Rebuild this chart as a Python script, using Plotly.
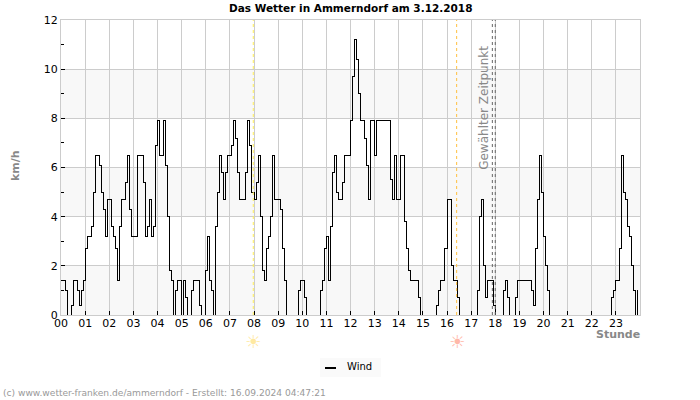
import plotly.graph_objects as go

# Wind speed in km/h, one value per 5 minutes, one row per hour
wind_kmh = [
    1.4, 1.4, 1.0, 0, 0, 0.4, 1.4, 1.4, 1.0, 0.4, 1.0, 1.4,
    2.7, 3.2, 3.2, 3.6, 5.0, 6.5, 6.5, 6.1, 5.0, 4.3, 3.2, 4.7,
    4.7, 3.6, 3.2, 2.7, 1.4, 3.6, 4.7, 4.7, 5.4, 6.5, 4.3, 3.2,
    3.2, 3.2, 6.5, 6.5, 6.5, 5.4, 3.2, 3.6, 4.7, 3.2, 3.6, 6.9,
    7.9, 6.5, 6.5, 7.9, 6.1, 4.0, 1.8, 1.4, 0, 1.0, 1.4, 1.4,
    0, 1.4, 0.7, 0, 0, 1.0, 1.4, 1.4, 1.4, 0.4, 0, 0,
    1.8, 3.2, 1.4, 1.0, 0, 3.6, 5.0, 6.5, 5.8, 4.7, 5.8, 6.5,
    6.5, 6.9, 7.9, 7.2, 5.8, 4.7, 4.7, 4.7, 5.8, 7.9, 6.9, 5.0,
    4.7, 5.4, 6.5, 4.0, 1.8, 1.4, 2.7, 3.2, 4.0, 6.5, 4.7, 4.7,
    4.7, 4.3, 2.7, 1.4, 0, 0, 0, 0, 0, 0, 1.0, 1.4,
    1.4, 0.7, 0, 0, 0, 0, 0, 0, 0, 1.0, 1.4, 2.7,
    3.2, 1.4, 3.6, 5.8, 6.5, 5.0, 4.7, 4.7, 5.4, 6.5, 6.5, 6.5,
    7.9, 9.7, 11.2, 10.4, 9.0, 7.9, 7.9, 7.2, 6.1, 4.7, 7.9, 7.9,
    6.5, 7.9, 7.9, 7.9, 7.9, 7.9, 7.9, 7.9, 5.5, 4.7, 6.5, 4.7,
    4.7, 6.5, 6.5, 3.8, 2.7, 1.8, 1.4, 1.4, 1.4, 1.4, 0.7, 0,
    0, 0, 0, 0, 0, 0, 0, 0.4, 1.0, 1.4, 1.4, 2.7,
    4.7, 4.7, 2.0, 1.4, 1.4, 0.7, 0, 0, 0, 0, 0, 0,
    0, 0, 0, 1.0, 4.0, 4.7, 2.0, 0.7, 1.4, 1.4, 1.4, 0.4,
    0, 0, 0, 0, 1.0, 1.4, 0.7, 0, 0, 0, 0.7, 1.4,
    1.4, 1.4, 1.4, 1.4, 1.4, 1.4, 1.0, 0.4, 2.7, 4.7, 6.5, 5.0,
    3.2, 2.0, 1.0, 0, 0, 0, 0, 0, 0, 0, 0, 0,
    0, 0, 0, 0, 0, 0, 0, 0, 0, 0, 0, 0,
    0, 0, 0, 0, 0, 0, 0, 0, 0, 0, 0.7, 1.0,
    1.4, 1.4, 2.7, 6.5, 5.0, 4.7, 3.6, 3.2, 2.0, 1.0, 0, 1.0,
]
hours = [i * 5 / 60 for i in range(len(wind_kmh))]

hour_ticks = list(range(24))
hour_labels = ["%02d" % h for h in hour_ticks]
y_ticks = [0, 2, 4, 6, 8, 10, 12]
bands = [(0, 2), (4, 6), (8, 10)]

sunrise = 7.97
sunset = 16.4
selected = [17.88, 18.0]

FONT = "DejaVu Sans"
GRID = "#cccccc"


# legend and other things outside the plot are placed in pixels of the page
def px_x(p):
    return (p - 61) / 579


def px_y(p):
    return (315 - p) / 295


fig = go.Figure()

fig.add_trace(go.Scatter(x=hours, y=wind_kmh, mode="lines", name="Wind", showlegend=False,
                         line=dict(color="black", width=1, shape="hv")))

for lo, hi in bands:
    fig.add_shape(type="rect", xref="paper", x0=0, x1=1, yref="y", y0=lo, y1=hi,
                  fillcolor="#f8f8f8", line_width=0, layer="below")

fig.add_shape(type="line", x0=sunrise, x1=sunrise, yref="paper", y0=0, y1=1,
              line=dict(color="#ffee55", width=1, dash="dot"))
fig.add_shape(type="line", x0=sunset, x1=sunset, yref="paper", y0=0, y1=1,
              line=dict(color="#ffc040", width=1, dash="dot"))
for x in selected:
    fig.add_shape(type="line", x0=x, x1=x, yref="paper", y0=0, y1=1,
                  line=dict(color="#666666", width=1, dash="dot"))

# sun symbols below the axis
for x, col in [(sunrise, "#ffe9a0"), (sunset, "#ffb8a8")]:
    fig.add_annotation(text="☀", xref="x", x=x, yref="paper", y=px_y(341), yanchor="middle", showarrow=False,
                       font=dict(family=FONT, size=18, color=col))

fig.add_annotation(text="Gewählter Zeitpunkt", xref="x", x=17.55, yref="y", y=5.84,
                   showarrow=False, textangle=-90, yanchor="bottom", xanchor="center",
                   font=dict(family=FONT, size=12, color="#888888"))
fig.add_annotation(text="<b>Das Wetter in Ammerndorf am 3.12.2018</b>", xref="x", x=12, yref="paper", y=px_y(8),
                   yanchor="middle", showarrow=False, font=dict(family=FONT, size=10.5, color="black"))
fig.add_annotation(text="<b>km/h</b>", xref="paper", x=px_x(15), xanchor="center", yref="paper", y=px_y(166),
                   yanchor="middle", showarrow=False, textangle=-90, font=dict(family=FONT, size=11, color="#888888"))
fig.add_annotation(text="<b>Stunde</b>", xref="paper", x=px_x(642), xanchor="right", yref="paper", y=px_y(334),
                   yanchor="middle", showarrow=False, font=dict(family=FONT, size=11, color="#888888"))
fig.add_annotation(text="(c) www.wetter-franken.de/ammerndorf - Erstellt: 16.09.2024 04:47:21",
                   xref="paper", x=px_x(1), xanchor="left", yref="paper", y=px_y(393), yanchor="middle",
                   showarrow=False, font=dict(family=FONT, size=9.1, color="#999999"))

# legend box
fig.add_shape(type="rect", xref="paper", yref="paper", x0=px_x(320), x1=px_x(381), y0=px_y(377), y1=px_y(358),
              fillcolor="#fafafa", line_width=0)
fig.add_shape(type="line", xref="paper", yref="paper", x0=px_x(325), x1=px_x(336), y0=px_y(368), y1=px_y(368),
              line=dict(color="black", width=2))
fig.add_annotation(text="Wind", xref="paper", x=px_x(345), xanchor="left", yref="paper", y=px_y(367),
                   yanchor="middle", showarrow=False, font=dict(family=FONT, size=10, color="black"))

fig.update_layout(
    width=700, height=400, autosize=False,
    margin=dict(l=61, r=60, t=20, b=85, pad=0),
    paper_bgcolor="white", plot_bgcolor="white",
    font=dict(family=FONT, size=11, color="black"),
    showlegend=False,
    xaxis=dict(range=[0, 24], tickvals=hour_ticks, ticktext=hour_labels, showgrid=True, gridcolor=GRID,
               gridwidth=1, zeroline=False, showline=True, linecolor=GRID, mirror=True,
               ticks="inside", ticklen=4, tickcolor="black", tickwidth=1, ticklabelstandoff=-2),
    yaxis=dict(range=[0, 12], tickvals=y_ticks, showgrid=True, gridcolor=GRID, gridwidth=1,
               zeroline=False, showline=True, linecolor=GRID, mirror=True,
               ticks="inside", ticklen=4, tickcolor="black", tickwidth=1,
               minor=dict(tickvals=[1, 3, 5, 7, 9, 11], ticks="inside", ticklen=3, tickcolor="black",
                          showgrid=False)),
)

crisp = ("document.body.style.margin='0';"
         "var s=document.createElement('style');"
         "s.textContent='.js-line{shape-rendering:crispEdges}';"
         "document.head.appendChild(s);")
fig.write_html("out.html", config={"displayModeBar": False}, post_script=crisp)
